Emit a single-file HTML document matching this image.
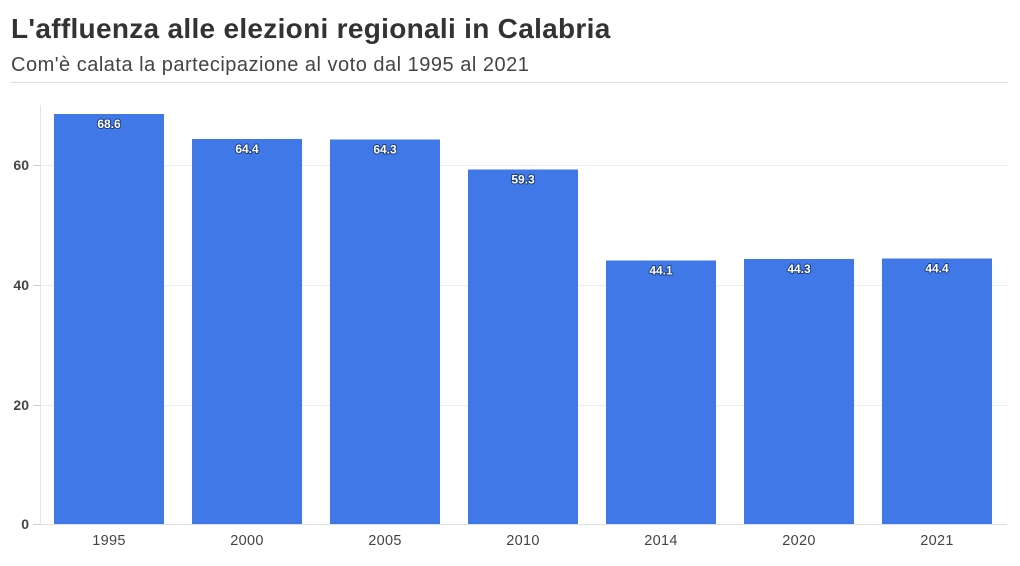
<!DOCTYPE html>
<html><head><meta charset="utf-8"><style>
body{margin:0;background:#fff;width:1020px;height:561px;overflow:hidden;font-family:"Liberation Sans",sans-serif}
</style></head><body>
<svg width="1020" height="561" xmlns="http://www.w3.org/2000/svg" font-family="Liberation Sans, sans-serif">
<text x="11" y="38" font-size="28" font-weight="bold" fill="#333" letter-spacing="0.3">L'affluenza alle elezioni regionali in Calabria</text>
<text x="11" y="71" font-size="20" fill="#444" letter-spacing="0.5">Com'è calata la partecipazione al voto dal 1995 al 2021</text>
<line x1="11" y1="82.5" x2="1008" y2="82.5" stroke="#ddd"/>
<g stroke="#ececec">
<line x1="40" y1="165.5" x2="1007" y2="165.5"/>
<line x1="40" y1="285.5" x2="1007" y2="285.5"/>
<line x1="40" y1="405.5" x2="1007" y2="405.5"/>
</g>
<line x1="40.5" y1="105" x2="40.5" y2="524" stroke="#e4e4e4"/>
<line x1="40" y1="524.5" x2="1007" y2="524.5" stroke="#ddd"/>
<g stroke="#ccc"><line x1="33" y1="165.5" x2="40" y2="165.5"/><line x1="33" y1="285.5" x2="40" y2="285.5"/><line x1="33" y1="405.5" x2="40" y2="405.5"/><line x1="33" y1="524.5" x2="40" y2="524.5"/></g>
<g font-size="14" font-weight="bold" fill="#444" text-anchor="end">
<text x="29" y="170">60</text><text x="29" y="290">40</text><text x="29" y="410">20</text><text x="29" y="529">0</text>
</g>
<g fill="#4079e7">
<rect x="54" y="114" width="110" height="410"/>
<rect x="192" y="139" width="110" height="385"/>
<rect x="330" y="139.5" width="110" height="384.5"/>
<rect x="468" y="169.5" width="110" height="354.5"/>
<rect x="606" y="260.5" width="110" height="263.5"/>
<rect x="744" y="259" width="110" height="265"/>
<rect x="882" y="258.5" width="110" height="265.5"/>
</g>
<g font-size="12" font-weight="bold" fill="#fff" text-anchor="middle" stroke="#1d3f80" stroke-width="2" paint-order="stroke" stroke-linejoin="round">
<text x="109" y="128">68.6</text><text x="247" y="153">64.4</text><text x="385" y="153.5">64.3</text><text x="523" y="183.5">59.3</text><text x="661" y="274.5">44.1</text><text x="799" y="273">44.3</text><text x="937" y="272.5">44.4</text>
</g>
<g font-size="14.5" fill="#444" text-anchor="middle" letter-spacing="0.3">
<text x="109" y="545">1995</text><text x="247" y="545">2000</text><text x="385" y="545">2005</text><text x="523" y="545">2010</text><text x="661" y="545">2014</text><text x="799" y="545">2020</text><text x="937" y="545">2021</text>
</g>
</svg>
</body></html>
